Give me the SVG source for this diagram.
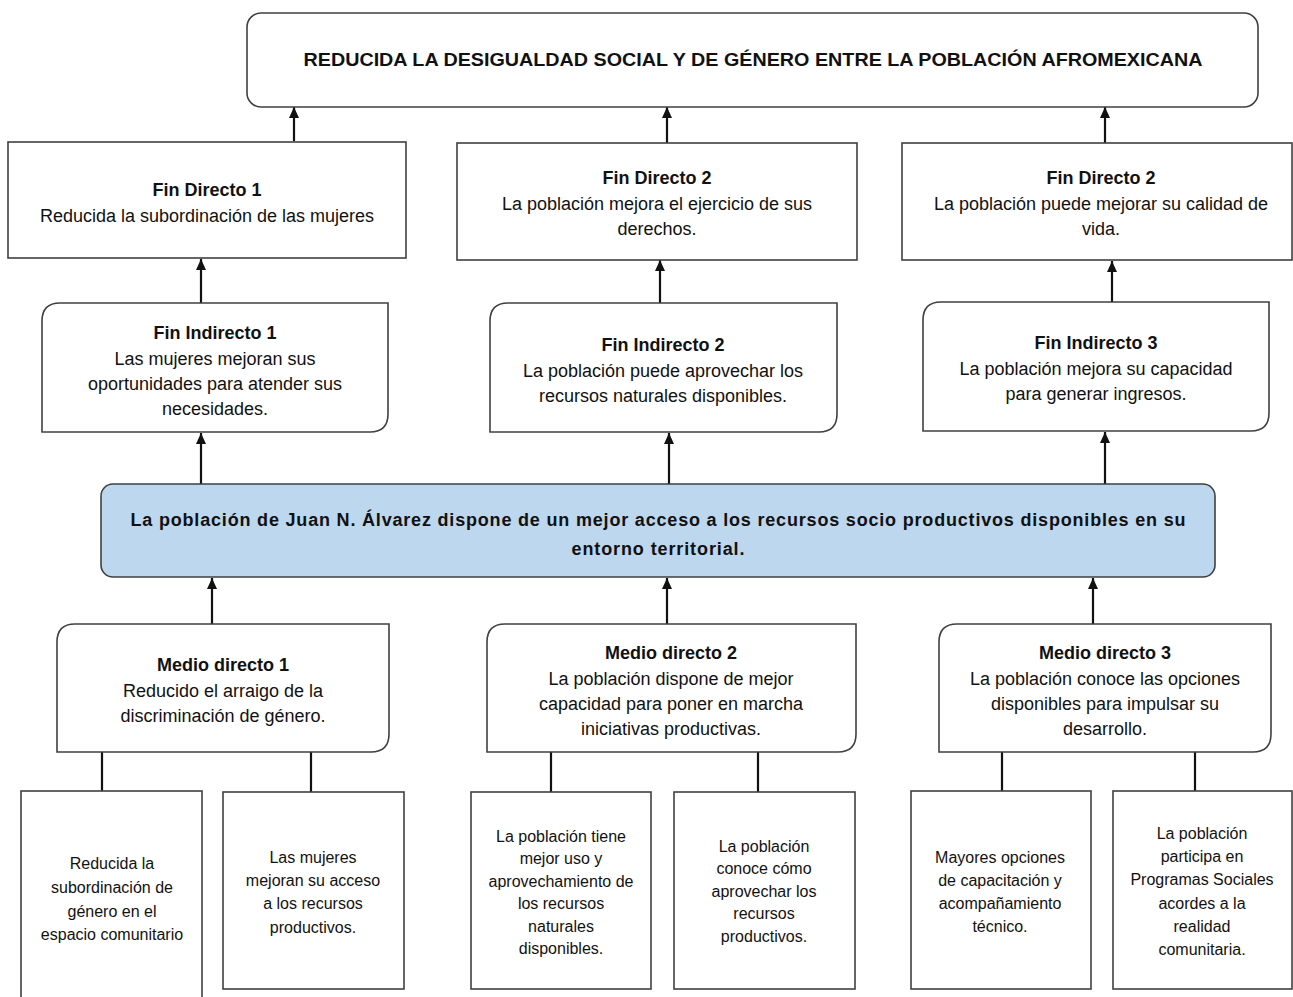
<svg xmlns="http://www.w3.org/2000/svg" width="1293" height="997" viewBox="0 0 1293 997">
<defs>
<marker id="ah" markerUnits="userSpaceOnUse" markerWidth="11" markerHeight="10" refX="11" refY="5" viewBox="0 0 11 10" orient="auto">
<path d="M0,0 L11,5 L0,10 Z" fill="#111"/>
</marker>
<style>
.box{fill:#fff;stroke:#404040;stroke-width:1.6}
.blue{fill:#bdd7ee;stroke:#404040;stroke-width:1.6}
.t{font-family:"Liberation Sans",Arial,sans-serif;font-size:18px;fill:#111;text-anchor:middle}
.b{font-weight:bold}
.s{font-size:16px}
.c{stroke:#111;stroke-width:2.2;fill:none}
.a{stroke:#111;stroke-width:2.2;fill:none;marker-end:url(#ah)}
</style>
</defs>
<rect width="1293" height="997" fill="#fff"/>

<g id="connectors">
<line class="a" x1="294" y1="141" x2="294" y2="107"/>
<line class="a" x1="667" y1="143" x2="667" y2="107"/>
<line class="a" x1="1105" y1="143" x2="1105" y2="107"/>
<line class="a" x1="201" y1="303" x2="201" y2="259"/>
<line class="a" x1="660" y1="303" x2="660" y2="260"/>
<line class="a" x1="1112" y1="302" x2="1112" y2="261"/>
<line class="a" x1="201" y1="484" x2="201" y2="433"/>
<line class="a" x1="669" y1="484" x2="669" y2="433"/>
<line class="a" x1="1105" y1="484" x2="1105" y2="432"/>
<line class="a" x1="212" y1="624" x2="212" y2="578"/>
<line class="a" x1="667" y1="624" x2="667" y2="578"/>
<line class="a" x1="1093" y1="624" x2="1093" y2="578"/>
<path class="c" d="M102,752 V791 M311,752 V792 M551,752 V792 M758,752 V792 M1002,752 V791 M1195,752 V791"/>
</g>

<g id="goal">
<rect class="box" x="247" y="13" width="1011" height="94" rx="14"/>
<text class="t b" x="753" y="66" font-size="18" textLength="899" lengthAdjust="spacingAndGlyphs">REDUCIDA LA DESIGUALDAD SOCIAL Y DE GÉNERO ENTRE LA POBLACIÓN AFROMEXICANA</text>
</g>

<g id="fin-directo-1">
<rect class="box" x="8" y="142" width="398" height="116"/>
<text class="t b" x="207" y="196">Fin Directo 1</text>
<text class="t" x="207" y="222">Reducida la subordinación de las mujeres</text>
</g>
<g id="fin-directo-2">
<rect class="box" x="457" y="143" width="400" height="117"/>
<text class="t b" x="657" y="184">Fin Directo 2</text>
<text class="t" x="657" y="210">La población mejora el ejercicio de sus</text>
<text class="t" x="657" y="235">derechos.</text>
</g>
<g id="fin-directo-3">
<rect class="box" x="902" y="143" width="390" height="117"/>
<text class="t b" x="1101" y="184">Fin Directo 2</text>
<text class="t" x="1101" y="210">La población puede mejorar su calidad de</text>
<text class="t" x="1101" y="235">vida.</text>
</g>

<g id="fin-indirecto-1">
<path class="box" d="M60,303 H388 V414 Q388,432 370,432 H42 V321 Q42,303 60,303 Z"/>
<text class="t b" x="215" y="339">Fin Indirecto 1</text>
<text class="t" x="215" y="365">Las mujeres mejoran sus</text>
<text class="t" x="215" y="390">oportunidades para atender sus</text>
<text class="t" x="215" y="415">necesidades.</text>
</g>
<g id="fin-indirecto-2">
<path class="box" d="M508,303 H837 V414 Q837,432 819,432 H490 V321 Q490,303 508,303 Z"/>
<text class="t b" x="663" y="351">Fin Indirecto 2</text>
<text class="t" x="663" y="377">La población puede aprovechar los</text>
<text class="t" x="663" y="402">recursos naturales disponibles.</text>
</g>
<g id="fin-indirecto-3">
<path class="box" d="M941,302 H1269 V413 Q1269,431 1251,431 H923 V320 Q923,302 941,302 Z"/>
<text class="t b" x="1096" y="349">Fin Indirecto 3</text>
<text class="t" x="1096" y="375">La población mejora su capacidad</text>
<text class="t" x="1096" y="400">para generar ingresos.</text>
</g>

<g id="proposito">
<rect class="blue" x="101" y="484" width="1114" height="93" rx="12"/>
<text class="t b" x="658" y="526" font-size="17" textLength="1055" lengthAdjust="spacing">La población de Juan N. Álvarez dispone de un mejor acceso a los recursos socio productivos disponibles en su</text>
<text class="t b" x="658" y="555" font-size="17" textLength="173" lengthAdjust="spacing">entorno territorial.</text>
</g>

<g id="medio-directo-1">
<path class="box" d="M75,624 H389 V734 Q389,752 371,752 H57 V642 Q57,624 75,624 Z"/>
<text class="t b" x="223" y="671">Medio directo 1</text>
<text class="t" x="223" y="697">Reducido el arraigo de la</text>
<text class="t" x="223" y="722">discriminación de género.</text>
</g>
<g id="medio-directo-2">
<path class="box" d="M505,624 H856 V734 Q856,752 838,752 H487 V642 Q487,624 505,624 Z"/>
<text class="t b" x="671" y="659">Medio directo 2</text>
<text class="t" x="671" y="685">La población dispone de mejor</text>
<text class="t" x="671" y="710">capacidad para poner en marcha</text>
<text class="t" x="671" y="735">iniciativas productivas.</text>
</g>
<g id="medio-directo-3">
<path class="box" d="M957,624 H1271 V734 Q1271,752 1253,752 H939 V642 Q939,624 957,624 Z"/>
<text class="t b" x="1105" y="659">Medio directo 3</text>
<text class="t" x="1105" y="685">La población conoce las opciones</text>
<text class="t" x="1105" y="710">disponibles para impulsar su</text>
<text class="t" x="1105" y="735">desarrollo.</text>
</g>

<g id="accion-1">
<rect class="box" x="21" y="791" width="181" height="215"/>
<text class="t s" x="112" y="869">Reducida la</text>
<text class="t s" x="112" y="893">subordinación de</text>
<text class="t s" x="112" y="917">género en el</text>
<text class="t s" x="112" y="940">espacio comunitario</text>
</g>
<g id="accion-2">
<rect class="box" x="223" y="792" width="181" height="197"/>
<text class="t s" x="313" y="863">Las mujeres</text>
<text class="t s" x="313" y="886">mejoran su acceso</text>
<text class="t s" x="313" y="909">a los recursos</text>
<text class="t s" x="313" y="933">productivos.</text>
</g>
<g id="accion-3">
<rect class="box" x="471" y="792" width="180" height="197"/>
<text class="t s" x="561" y="842">La población tiene</text>
<text class="t s" x="561" y="864">mejor uso y</text>
<text class="t s" x="561" y="887">aprovechamiento de</text>
<text class="t s" x="561" y="909">los recursos</text>
<text class="t s" x="561" y="932">naturales</text>
<text class="t s" x="561" y="954">disponibles.</text>
</g>
<g id="accion-4">
<rect class="box" x="674" y="792" width="181" height="197"/>
<text class="t s" x="764" y="852">La población</text>
<text class="t s" x="764" y="874">conoce cómo</text>
<text class="t s" x="764" y="897">aprovechar los</text>
<text class="t s" x="764" y="919">recursos</text>
<text class="t s" x="764" y="942">productivos.</text>
</g>
<g id="accion-5">
<rect class="box" x="911" y="791" width="180" height="198"/>
<text class="t s" x="1000" y="863">Mayores opciones</text>
<text class="t s" x="1000" y="886">de capacitación y</text>
<text class="t s" x="1000" y="909">acompañamiento</text>
<text class="t s" x="1000" y="932">técnico.</text>
</g>
<g id="accion-6">
<rect class="box" x="1113" y="791" width="179" height="198"/>
<text class="t s" x="1202" y="839">La población</text>
<text class="t s" x="1202" y="862">participa en</text>
<text class="t s" x="1202" y="885">Programas Sociales</text>
<text class="t s" x="1202" y="909">acordes a la</text>
<text class="t s" x="1202" y="932">realidad</text>
<text class="t s" x="1202" y="955">comunitaria.</text>
</g>
</svg>
